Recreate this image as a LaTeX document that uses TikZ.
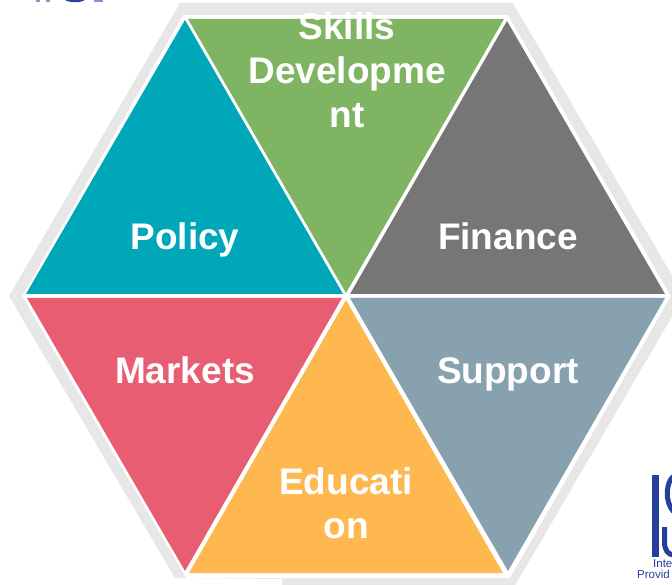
\documentclass[tikz,border=0pt]{standalone}
\usepackage{fontspec}
\setmainfont{Liberation Sans}
\definecolor{cteal}{HTML}{00A7B8}
\definecolor{cgreen}{HTML}{7FB463}
\definecolor{cgrey}{HTML}{767676}
\definecolor{cpink}{HTML}{E85D72}
\definecolor{corange}{HTML}{FFB74F}
\definecolor{cslate}{HTML}{88A1AE}
\definecolor{cring}{HTML}{E7E7E7}
\definecolor{clogo}{HTML}{24409A}
\tikzset{
  lab/.style={text=white,font=\fontsize{37}{44}\selectfont\bfseries,align=center,inner sep=0pt},
  single/.style={lab,anchor=base},
  logotext/.style={text=clogo,font=\fontsize{11.5}{12}\selectfont,inner sep=0pt,anchor=base west},
}
\begin{document}
\begin{tikzpicture}[x=1pt,y=-1pt]
\useasboundingbox (0,0) rectangle (672,585);
\clip (0,0) rectangle (672,585);
\fill[white] (0,0) rectangle (672,585);
% top fragments of the cropped logo
\fill[clogo!55] (36,0) rectangle (40,2);
\fill[clogo!55] (46,0) rectangle (50,2);
\fill[clogo] (65,0) .. controls (70,3) and (80,3) .. (85,0) -- cycle;
\fill[clogo!55] (94,0) rectangle (103,2);
% grey ring
\fill[cring,even odd rule]
  (9,296) -- (180,3) -- (513,3) -- (684,296) -- (513,589) -- (282,589) -- (282,579) -- (175,578) -- cycle
  (22,296) -- (183,15) -- (508,15) -- (671,296) -- (510,578) -- (186,578) -- cycle;
% triangles
\fill[cteal] (185,20) -- (343,294) -- (26,294) -- cycle;
\fill[cgreen] (188,19) -- (504,19) -- (346,293) -- cycle;
\fill[cgrey] (507,21) -- (665,294) -- (350,294) -- cycle;
\fill[cpink] (27,298) -- (342,298) -- (185,571) -- cycle;
\fill[corange] (346,300) -- (503,573) -- (189,573) -- cycle;
\fill[cslate] (350,298) -- (665,298) -- (508,571) -- cycle;
% labels
\node[lab] (skills) at (347,70) {Skills\\Developme\\nt};
\node[single] (policy) at (185,250) {Policy};
\node[single] (finance) at (508,250) {Finance};
\node[single] (markets) at (185,383) {Markets};
\node[single] (support) at (508,383) {Support};
\node[lab] (education) at (346,503) {Educati\\on};
% logo at lower right
\fill[clogo] (652,475) rectangle (659,557);
\draw[clogo,line width=5pt] (674,476) .. controls (668,480) and (666,492) .. (668,500) .. controls (669,505) and (671,509) .. (674,512);
\draw[clogo,line width=5pt] (664.5,527) -- (664.5,542) .. controls (664.5,550) and (668,555) .. (674,555);
\node[logotext] (inte) at (653,567) {Inte};
\node[logotext] (provid) at (637,578.5) {Provid};
\end{tikzpicture}
\end{document}
